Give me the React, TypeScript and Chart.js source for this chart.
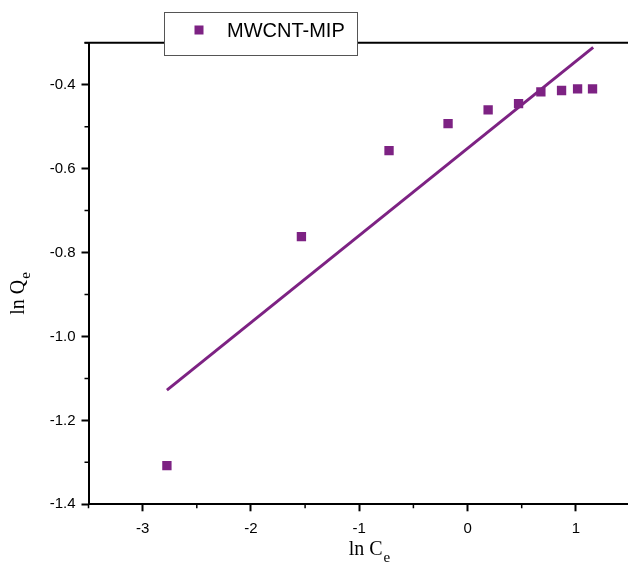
import React, { useEffect, useRef } from "react";
import { Chart, registerables } from "chart.js";

Chart.register(...registerables);

const SERIES_NAME = "MWCNT-MIP";
const X_VALUES = [-2.776, -1.534, -0.725, -0.18, 0.19, 0.471, 0.677, 0.868, 1.016, 1.154];
const Y_VALUES = [-1.308, -0.762, -0.557, -0.493, -0.46, -0.445, -0.417, -0.414, -0.41, -0.41];
const FIT_X = [-2.776, 1.16];
const FIT_Y = [-1.128, -0.311];
const X_TICKS = [-3, -2, -1, 0, 1];
const X_MINOR = [-3.5, -2.5, -1.5, -0.5, 0.5, 1.5];
const Y_TICKS = [-1.4, -1.2, -1.0, -0.8, -0.6, -0.4];
const Y_MINOR = [-1.3, -1.1, -0.9, -0.7, -0.5, -0.3];
const X_TITLE = ["ln C", "e"];
const Y_TITLE = ["ln Q", "e"];

const PURPLE = "#7d2283";

const decorPlugin = {
  id: "decor",
  afterDraw(chart: any) {
    const ctx = chart.ctx;
    const { left, right, top, bottom } = chart.chartArea;
    const xs = chart.scales.x;
    const ys = chart.scales.y;
    ctx.save();
    // top frame line
    ctx.strokeStyle = "#000";
    ctx.lineWidth = 2;
    ctx.beginPath();
    ctx.moveTo(left - 4, top);
    ctx.lineTo(right, top);
    ctx.stroke();
    // minor ticks
    ctx.lineWidth = 1.5;
    ctx.beginPath();
    X_MINOR.forEach((v) => {
      const px = xs.getPixelForValue(v);
      ctx.moveTo(px, bottom);
      ctx.lineTo(px, bottom + 4);
    });
    Y_MINOR.forEach((v) => {
      const py = ys.getPixelForValue(v);
      ctx.moveTo(left, py);
      ctx.lineTo(left - 4, py);
    });
    ctx.stroke();

    // axis titles
    ctx.fillStyle = "#000";
    ctx.textBaseline = "alphabetic";
    ctx.textAlign = "left";
    const mainFont = "20px 'Liberation Serif', 'Times New Roman', serif";
    const subFont = "15px 'Liberation Serif', 'Times New Roman', serif";
    // x title
    ctx.font = mainFont;
    const xw1 = ctx.measureText(X_TITLE[0]).width;
    ctx.font = subFont;
    const xw2 = ctx.measureText(X_TITLE[1]).width;
    const xcx = 369;
    const xStart = xcx - (xw1 + xw2) / 2;
    ctx.font = mainFont;
    ctx.fillText(X_TITLE[0], xStart, 555);
    ctx.font = subFont;
    ctx.fillText(X_TITLE[1], xStart + xw1 + 1, 562);
    // y title
    ctx.save();
    ctx.translate(24, 294);
    ctx.rotate(-Math.PI / 2);
    ctx.font = mainFont;
    const yw1 = ctx.measureText(Y_TITLE[0]).width;
    ctx.font = subFont;
    const yw2 = ctx.measureText(Y_TITLE[1]).width;
    const yStart = -(yw1 + yw2) / 2;
    ctx.font = mainFont;
    ctx.fillText(Y_TITLE[0], yStart, 0);
    ctx.font = subFont;
    ctx.fillText(Y_TITLE[1], yStart + yw1 + 1, 6);
    ctx.restore();

    // legend box
    ctx.fillStyle = "#fff";
    ctx.fillRect(164.5, 12.5, 193, 43);
    ctx.strokeStyle = "#555";
    ctx.lineWidth = 1;
    ctx.strokeRect(164.5, 12.5, 193, 43);
    ctx.fillStyle = PURPLE;
    ctx.fillRect(194.5, 25.5, 9, 9);
    ctx.fillStyle = "#000";
    ctx.font = "20px 'Liberation Sans', Arial, sans-serif";
    ctx.textBaseline = "middle";
    ctx.fillText(SERIES_NAME, 227, 31);
    ctx.restore();
  },
};

export default function App() {
  const ref = useRef<HTMLCanvasElement | null>(null);
  useEffect(() => {
    if (!ref.current) return;
    const chart = new Chart(ref.current, {
      type: "scatter",
      data: {
        datasets: [
          {
            label: SERIES_NAME,
            data: X_VALUES.map((x, i) => ({ x, y: Y_VALUES[i] })),
            pointStyle: "rect",
            pointRadius: 6.6,
            pointBorderWidth: 0,
            backgroundColor: PURPLE,
            borderColor: PURPLE,
            showLine: false,
          },
          {
            label: "fit",
            data: FIT_X.map((x, i) => ({ x, y: FIT_Y[i] })),
            showLine: true,
            pointRadius: 0,
            borderColor: PURPLE,
            borderWidth: 3,
            backgroundColor: PURPLE,
          },
        ],
      },
      options: {
        animation: false,
        responsive: false,
        devicePixelRatio: 1,
        layout: { autoPadding: false, padding: { top: 42.7, right: 0, bottom: 0, left: 0 } },
        plugins: { legend: { display: false }, tooltip: { enabled: false }, title: { display: false } },
        scales: {
          x: {
            type: "linear",
            min: -3.5,
            max: 1.5,
            afterBuildTicks: (s: any) => {
              s.ticks = X_TICKS.map((v) => ({ value: v }));
            },
            afterFit: (s: any) => {
              s.height = 573 - 504.3;
              s.paddingRight = 0;
              s.paddingLeft = 0;
            },
            ticks: {
              color: "#000",
              padding: 9,
              font: { family: "'Liberation Sans', Arial, sans-serif", size: 15 },
              callback: (v: any) => String(v),
              maxRotation: 0,
            },
            grid: { drawOnChartArea: false, drawTicks: true, tickLength: 7, tickColor: "#000", tickWidth: 2 },
            border: { display: true, color: "#000", width: 2 },
          },
          y: {
            type: "linear",
            min: -1.4,
            max: -0.3,
            afterBuildTicks: (s: any) => {
              s.ticks = Y_TICKS.map((v) => ({ value: v }));
            },
            afterFit: (s: any) => {
              s.width = 88.5;
              s.paddingTop = 0;
              s.paddingBottom = 0;
            },
            ticks: {
              color: "#000",
              padding: 6,
              font: { family: "'Liberation Sans', Arial, sans-serif", size: 15 },
              callback: (v: any) => Number(v).toFixed(1),
            },
            grid: { drawOnChartArea: false, drawTicks: true, tickLength: 7, tickColor: "#000", tickWidth: 2 },
            border: { display: true, color: "#000", width: 2 },
          },
        },
      },
      plugins: [decorPlugin],
    });
    return () => chart.destroy();
  }, []);
  return (
    <div style={{ position: "absolute", left: 0, top: 0, width: 628, height: 573, overflow: "hidden", background: "#fff" }}>
      <canvas ref={ref} width={630} height={573} style={{ width: 630, height: 573, display: "block" }} />
    </div>
  );
}
